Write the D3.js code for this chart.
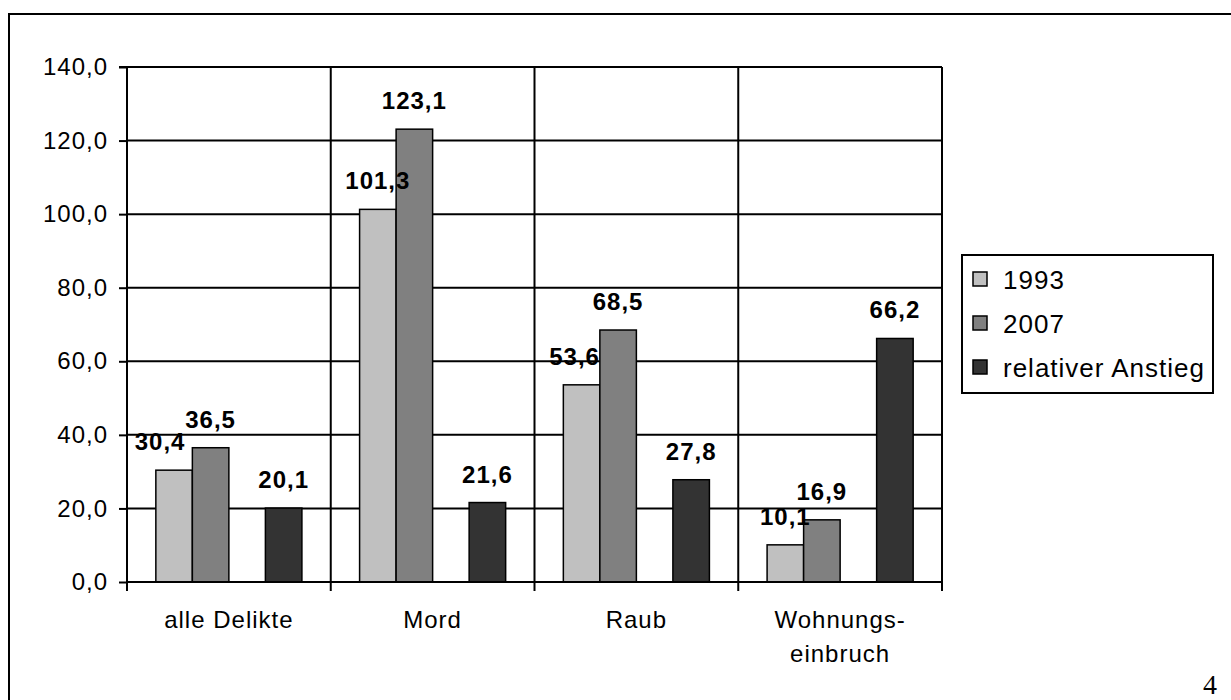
<!DOCTYPE html>
<html>
<head>
<meta charset="utf-8">
<script src="https://cdn.jsdelivr.net/npm/d3@7"></script>
<style>
  body { margin: 0; background: #fff; }
  svg { display: block; font-family: Arial, "Liberation Sans", sans-serif; }
</style>
</head>
<body>
<svg></svg>
<script>
//chart data
const categories = ["alle Delikte", "Mord", "Raub", "Wohnungs-\neinbruch"];
const seriesNames = ["1993", "2007", "relativer Anstieg"];
const values1993 = [30.4, 101.3, 53.6, 10.1];
const values2007 = [36.5, 123.1, 68.5, 16.9];
const valuesAnstieg = [20.1, 21.6, 27.8, 66.2];
const yTicks = [0, 20, 40, 60, 80, 100, 120, 140];

const width = 1231;
const height = 700;
const margin = { top: 67, left: 127, right: 289, bottom: 118 };

const svg = d3.select("svg")
  .attr("width", width)
  .attr("height", height);

//page frame
svg.append("rect")
  .attr("x", 9).attr("y", 14)
  .attr("width", width + 20).attr("height", height + 20)
  .attr("fill", "none").attr("stroke", "#000").attr("stroke-width", 2);

//page number
svg.append("text")
  .attr("x", 1210).attr("y", 694)
  .attr("text-anchor", "middle")
  .attr("font-family", "'Liberation Serif', 'DejaVu Serif', serif")
  .attr("font-size", 28)
  .text("4");

const x = d3.scaleBand()
  .domain(categories)
  .range([margin.left, width - margin.right]);

//4 slots in each group, the third one stays empty
const slot = d3.scaleBand()
  .domain([0, 1, 2, 3])
  .range([0, x.bandwidth()])
  .paddingOuter(0.79);

const y = d3.scaleLinear()
  .domain([0, 140])
  .range([height - margin.bottom, margin.top]);

const colors = ["#c0c0c0", "#808080", "#333333"];
const slots = [0, 1, 3];
const allValues = [values1993, values2007, valuesAnstieg];

//horizontal gridlines
svg.append("g")
  .selectAll("line")
  .data(yTicks.slice(1))
  .enter().append("line")
  .attr("x1", margin.left).attr("x2", width - margin.right)
  .attr("y1", d => y(d)).attr("y2", d => y(d))
  .attr("stroke", "#000").attr("stroke-width", 2);

//vertical gridlines at category borders
svg.append("g")
  .selectAll("line")
  .data(categories)
  .enter().append("line")
  .attr("x1", d => x(d) + x.bandwidth()).attr("x2", d => x(d) + x.bandwidth())
  .attr("y1", y(140)).attr("y2", y(0))
  .attr("stroke", "#000").attr("stroke-width", 2);

//bars
seriesNames.forEach((name, i) => {
  svg.append("g")
    .selectAll("rect")
    .data(allValues[i])
    .enter().append("rect")
    .attr("x", (d, j) => x(categories[j]) + slot(slots[i]))
    .attr("y", d => y(d))
    .attr("width", slot.bandwidth())
    .attr("height", d => y(0) - y(d))
    .attr("fill", colors[i])
    .attr("stroke", "#000")
    .attr("stroke-width", 1.5);
});

//value labels
const fmt = v => d3.format(".1f")(v).replace(".", ",");
seriesNames.forEach((name, i) => {
  svg.append("g")
    .selectAll("text")
    .data(allValues[i])
    .enter().append("text")
    .attr("x", (d, j) => {
      let cx = x(categories[j]) + slot(slots[i]) + slot.bandwidth() / 2;
      //first labels were nudged left in the original
      if (i === 0 && j === 0) cx -= 14;
      if (i === 0 && j === 2) cx -= 7;
      return cx;
    })
    .attr("y", d => y(d) - 20)
    .attr("text-anchor", "middle")
    .attr("font-size", 24)
    .attr("font-weight", "bold")
    .attr("letter-spacing", 1)
    .text(d => fmt(d));
});

//y axis
const yAxis = d3.axisLeft(y)
  .tickValues(yTicks)
  .tickSize(8)
  .tickPadding(11)
  .tickFormat(d => fmt(d));

svg.append("g")
  .attr("transform", `translate(${margin.left},0)`)
  .call(yAxis)
  .call(g => g.selectAll("path,line").attr("stroke", "#000").attr("stroke-width", 2))
  .call(g => g.select(".domain").attr("d", `M-8,${y(140)}H0V${y(0)}`))
  .call(g => g.selectAll("text")
    .attr("font-size", 24)
    .attr("letter-spacing", 1)
    .attr("fill", "#000")
    .attr("font-family", "Arial, 'Liberation Sans', sans-serif"));

//x axis
svg.append("line")
  .attr("x1", margin.left).attr("x2", width - margin.right)
  .attr("y1", y(0)).attr("y2", y(0))
  .attr("stroke", "#000").attr("stroke-width", 2);

svg.append("g")
  .selectAll("line")
  .data([margin.left].concat(categories.map(c => x(c) + x.bandwidth())))
  .enter().append("line")
  .attr("x1", d => d).attr("x2", d => d)
  .attr("y1", y(0)).attr("y2", y(0) + 9)
  .attr("stroke", "#000").attr("stroke-width", 2);

const catLabels = svg.append("g")
  .selectAll("text")
  .data(categories)
  .enter().append("text")
  .attr("x", d => x(d) + x.bandwidth() / 2)
  .attr("y", 628)
  .attr("text-anchor", "middle")
  .attr("font-size", 24)
  .attr("letter-spacing", 1);

catLabels.each(function(d) {
  const lines = d.split("\n");
  d3.select(this).selectAll("tspan")
    .data(lines)
    .enter().append("tspan")
    .attr("x", x(d) + x.bandwidth() / 2)
    .attr("dy", (l, k) => k === 0 ? 0 : 34)
    .text(l => l);
});

//legend
const legend = svg.append("g")
  .attr("transform", "translate(962,255)");

legend.append("rect")
  .attr("width", 251).attr("height", 138)
  .attr("fill", "#fff").attr("stroke", "#000").attr("stroke-width", 2);

const items = legend.selectAll("g.item")
  .data(seriesNames)
  .enter().append("g")
  .attr("class", "item")
  .attr("transform", (d, i) => `translate(11,${17 + i * 44})`);

items.append("rect")
  .attr("width", 14).attr("height", 14)
  .attr("fill", (d, i) => colors[i])
  .attr("stroke", "#000").attr("stroke-width", 1.5);

items.append("text")
  .attr("x", 30).attr("y", 17)
  .attr("font-size", 26)
  .attr("letter-spacing", 1)
  .text(d => d);
</script>
</body>
</html>
